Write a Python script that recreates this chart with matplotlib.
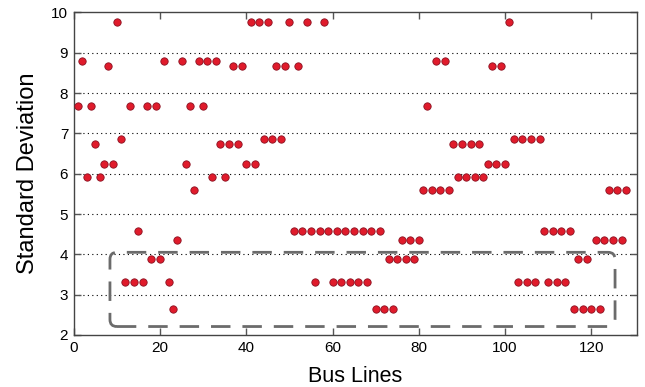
"""
Standard deviation per bus line, with the low-deviation lines boxed.
"""

import matplotlib
matplotlib.use("Agg")
import matplotlib.pyplot as plt
from matplotlib.patches import FancyBboxPatch

plt.rcParams["font.family"] = ["Liberation Sans", "DejaVu Sans"]

# bus line index 1..128, one value each
bus_lines = list(range(1, 129))
std_dev = [
    7.69, 8.80, 5.92, 7.69, 6.73, 5.92, 6.25, 8.68, 6.25, 9.77,   # 1-10
    6.86, 3.32, 7.69, 3.32, 4.59, 3.32, 7.69, 3.89, 7.69, 3.89,   # 11-20
    8.80, 3.32, 2.65, 4.36, 8.80, 6.25, 7.69, 5.59, 8.80, 7.69,   # 21-30
    8.80, 5.92, 8.80, 6.73, 5.92, 6.73, 8.68, 6.73, 8.68, 6.25,   # 31-40
    9.77, 6.25, 9.77, 6.86, 9.77, 6.86, 8.68, 6.86, 8.68, 9.77,   # 41-50
    4.59, 8.68, 4.59, 9.77, 4.59, 3.32, 4.59, 9.77, 4.59, 3.32,   # 51-60
    4.59, 3.32, 4.59, 3.32, 4.59, 3.32, 4.59, 3.32, 4.59, 2.65,   # 61-70
    4.59, 2.65, 3.89, 2.65, 3.89, 4.36, 3.89, 4.36, 3.89, 4.36,   # 71-80
    5.59, 7.69, 5.59, 8.80, 5.59, 8.80, 5.59, 6.73, 5.92, 6.73,   # 81-90
    5.92, 6.73, 5.92, 6.73, 5.92, 6.25, 8.68, 6.25, 8.68, 6.25,   # 91-100
    9.77, 6.86, 3.32, 6.86, 3.32, 6.86, 3.32, 6.86, 4.59, 3.32,   # 101-110
    4.59, 3.32, 4.59, 3.32, 4.59, 2.65, 3.89, 2.65, 3.89, 2.65,   # 111-120
    4.36, 2.65, 4.36, 5.59, 4.36, 5.59, 4.36, 5.59,               # 121-128
]
x_ticks = [0, 20, 40, 60, 80, 100, 120]
y_ticks = [2, 3, 4, 5, 6, 7, 8, 9, 10]
# highlighted region (data units)
box_x0, box_x1 = 8.4, 125.5
box_y0, box_y1 = 2.21, 4.05

fig = plt.figure(figsize=(6.45, 3.87), dpi=100)
ax = fig.add_axes([0.1143, 0.1344, 0.8727, 0.8336])

for y in y_ticks[1:-1]:
    ax.axhline(y, color="black", lw=0.8, ls=(0, (1, 3)), zorder=1)

ax.scatter(bus_lines, std_dev, s=28, color="#e01b2b", edgecolors="#8a1020",
           linewidths=0.6, zorder=3)

# rounded dashed box; mutation_aspect makes the corners round in pixels
box = FancyBboxPatch((box_x0, box_y0), box_x1 - box_x0, box_y1 - box_y0,
                     boxstyle="round,pad=0,rounding_size=1.6", mutation_aspect=0.108,
                     fill=False, edgecolor="#6b6b6b", lw=2.0, ls=(0, (7, 4.3)), zorder=2)
ax.add_patch(box)

ax.set_xlim(0, 130.5)
ax.set_ylim(2, 10)
ax.set_xticks(x_ticks)
ax.set_yticks(y_ticks)
ax.tick_params(direction="in", top=True, right=True, length=5, width=1,
               color="#555555", labelsize=11, pad=4)
for sp in ax.spines.values():
    sp.set_color("#444444")
    sp.set_linewidth(1.0)

ax.set_xlabel("Bus Lines", fontsize=15.5, labelpad=8)
ax.set_ylabel("Standard Deviation", fontsize=17, labelpad=9)

fig.savefig("out.png", dpi=100)
